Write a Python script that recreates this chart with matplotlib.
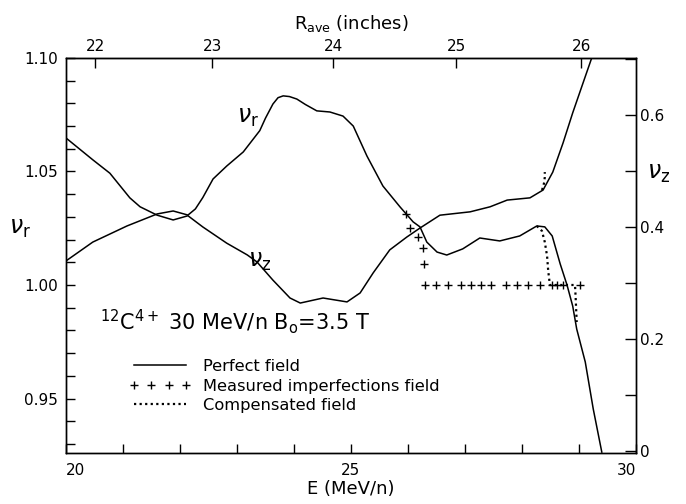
import matplotlib
matplotlib.use("Agg")
import matplotlib.pyplot as plt
from matplotlib.lines import Line2D
from matplotlib.ticker import MultipleLocator, FixedLocator

# --- data ---
# radial tune, perfect field (left axis)
E_r = [20.00, 20.47, 21.07, 21.60, 21.88, 22.14, 22.27, 22.40, 22.58, 22.82,
       23.11, 23.40, 23.50, 23.63, 23.72, 23.81, 23.92, 24.05, 24.20, 24.40,
       24.63, 24.86, 25.04, 25.28, 25.56, 25.86, 26.09, 26.21, 26.33, 26.51,
       26.68, 26.96, 27.26, 27.61, 27.96, 28.26, 28.40, 28.53, 28.58, 28.67,
       28.79, 28.89, 28.96, 29.11, 29.25, 29.40]
nu_r = [1.0106, 1.0189, 1.0260, 1.0313, 1.0326, 1.0308, 1.0335, 1.0385, 1.0467, 1.0524,
        1.0586, 1.0680, 1.0735, 1.0797, 1.0825, 1.0833, 1.0830, 1.0819, 1.0795, 1.0767,
        1.0762, 1.0744, 1.0700, 1.0568, 1.0436, 1.0344, 1.0278, 1.0256, 1.0189, 1.0145,
        1.0132, 1.0159, 1.0207, 1.0194, 1.0216, 1.0260, 1.0256, 1.0216, 1.0172, 1.0093,
        1.0000, 0.9907, 0.9806, 0.9661, 0.9454, 0.9264]

# vertical tune, perfect field (right axis)
E_z = [20.00, 20.47, 20.77, 21.12, 21.30, 21.60, 21.88, 22.14, 22.40, 22.82,
       23.18, 23.35, 23.63, 23.93, 24.11, 24.51, 24.93, 25.16, 25.39, 25.68,
       25.98, 26.21, 26.56, 27.09, 27.44, 27.74, 28.14, 28.37, 28.54, 28.72,
       28.89, 29.07, 29.23]
nu_z = [0.559, 0.520, 0.496, 0.452, 0.436, 0.421, 0.4125, 0.420, 0.400, 0.371,
        0.350, 0.3375, 0.305, 0.273, 0.264, 0.273, 0.266, 0.282, 0.318, 0.359,
        0.382, 0.398, 0.421, 0.427, 0.436, 0.448, 0.452, 0.466, 0.498, 0.550,
        0.604, 0.657, 0.704]

# measured imperfections field (nu_r)
E_meas = [25.96, 26.04, 26.18, 26.26, 26.28, 26.30, 26.49, 26.70, 26.93, 27.11,
          27.28, 27.46, 27.72, 27.91, 28.11, 28.32, 28.53, 28.61, 28.72, 29.02]
nu_r_meas = [1.0313, 1.0251, 1.0211, 1.0163, 1.0093] + [1.000] * 15

# compensated field
E_comp_r = [28.26, 28.35, 28.40, 28.44, 28.46, 28.49, 28.93, 28.94, 28.95, 28.96]
nu_r_comp = [1.026, 1.0238, 1.0189, 1.0128, 1.0062, 1.000, 1.000, 0.9952, 0.9894, 0.9837]
E_comp_z = [28.35, 28.37, 28.39, 28.40, 28.40]
nu_z_comp = [0.466, 0.471, 0.480, 0.489, 0.498]

# top axis: average radius (inches) vs energy
R_labels = ["22", "23", "24", "25", "26"]
R_at_E = [20.51, 22.57, 24.69, 26.85, 29.04]

plt.rcParams["font.family"] = "DejaVu Sans"

fig = plt.figure(figsize=(6.86, 5.04), dpi=100)
ax = fig.add_axes([0.0962, 0.1012, 0.8309, 0.7838])
ax2 = ax.twinx()

ax.plot(E_r, nu_r, color="black", lw=1.1)
ax.plot(E_meas, nu_r_meas, linestyle="none", marker="+", ms=6, mew=1.0, color="black")
ax.plot(E_comp_r, nu_r_comp, color="black", lw=1.6, linestyle=(0, (1, 1.5)))
ax2.plot(E_z, nu_z, color="black", lw=1.1)
ax2.plot(E_comp_z, nu_z_comp, color="black", lw=1.6, linestyle=(0, (1, 1.5)))

ax.set_xlim(20, 30)
ax.set_ylim(0.926, 1.10)
ax2.set_ylim(-0.004, 0.702)

ax.xaxis.set_major_locator(FixedLocator([20, 25, 30]))
ax.xaxis.set_minor_locator(MultipleLocator(1))
ax.yaxis.set_major_locator(FixedLocator([0.95, 1.00, 1.05, 1.10]))
ax.yaxis.set_minor_locator(MultipleLocator(0.01))
ax.yaxis.set_major_formatter(plt.FuncFormatter(lambda v, p: f"{v:.2f}"))
ax2.yaxis.set_major_locator(FixedLocator([0, 0.2, 0.4, 0.6]))
ax2.yaxis.set_minor_locator(MultipleLocator(0.1))
ax2.yaxis.set_major_formatter(plt.FuncFormatter(lambda v, p: "0" if v == 0 else f"{v:.1f}"))

ax.tick_params(axis="x", which="both", direction="in", length=6.5, width=1, pad=7, labelsize=11)
ax.tick_params(axis="y", which="both", direction="in", length=6.5, width=1, pad=6, labelsize=11)
ax2.tick_params(axis="y", which="both", direction="in", length=8, width=1, pad=3, labelsize=11)

# end labels sit inside the axis span
xlabels = ax.get_xticklabels()
xlabels[0].set_horizontalalignment("left")
xlabels[-1].set_horizontalalignment("right")

top = ax.secondary_xaxis("top")
top.set_xticks(R_at_E, labels=R_labels)
top.tick_params(direction="in", length=7, width=1, pad=3, labelsize=11)
top.set_xlabel(r"R$_{\mathrm{ave}}$ (inches)", fontsize=13, labelpad=7)

ax.set_xlabel("E (MeV/n)", fontsize=13, labelpad=2)
ax.set_ylabel(r"$\nu_{\mathrm{r}}$", fontsize=17, rotation=0, labelpad=14, va="center")
ax2.set_ylabel(r"$\nu_{\mathrm{z}}$", fontsize=17, rotation=0, labelpad=14, va="center")
ax.yaxis.set_label_coords(-0.08, 0.57)
ax2.yaxis.set_label_coords(1.04, 0.71)

ax.text(23.19, 1.074, r"$\nu_{\mathrm{r}}$", fontsize=17, ha="center", va="center")
ax.text(23.40, 1.0106, r"$\nu_{\mathrm{z}}$", fontsize=17, ha="center", va="center")
ax.text(20.6, 0.984, r"$^{12}$C$^{4+}$ 30 MeV/n B$_{\mathrm{o}}$=3.5 T", fontsize=15, va="center")

for a in (ax, ax2):
    for s in a.spines.values():
        s.set_linewidth(1.0)

handles = [
    Line2D([], [], color="black", lw=1.1),
    Line2D([], [], color="black", linestyle="none", marker="+", ms=6, mew=1.0),
    Line2D([], [], color="black", lw=1.6, linestyle=(0, (1, 1.5))),
]
labels = ["Perfect field", "Measured imperfections field", "Compensated field"]
ax.legend(handles, labels, loc="upper left", bbox_to_anchor=(0.11, 0.238),
          frameon=False, numpoints=4, handlelength=3.85, handletextpad=0.75,
          labelspacing=0.28, borderpad=0, borderaxespad=0, fontsize=11.7)

fig.savefig("out.png", dpi=100)
